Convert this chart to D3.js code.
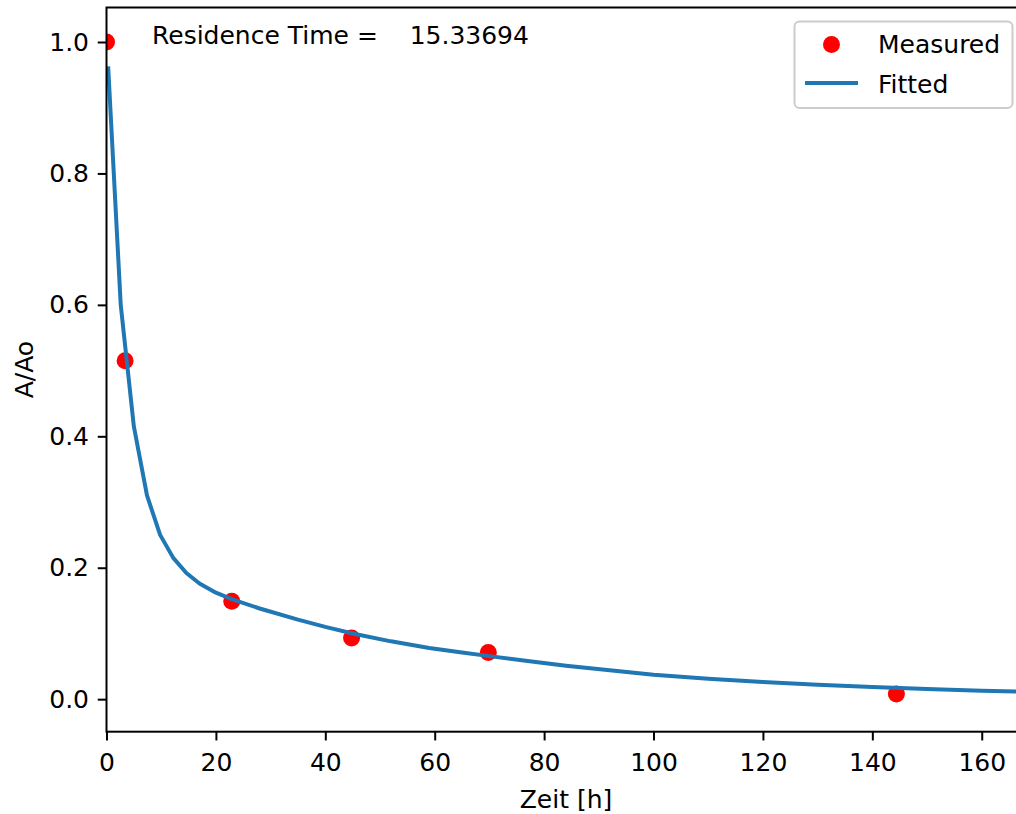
<!DOCTYPE html>
<html>
<head>
<meta charset="utf-8">
<script src="https://d3js.org/d3.v7.min.js"></script>
<style>
  body { margin: 0; background: #fff; }
  text { font-family: "DejaVu Sans", sans-serif; fill: #000; }
</style>
</head>
<body>
<script>

// measured points
var measX = [0, 3.4, 22.9, 44.8, 69.8, 144.4]
var measY = [1.0, 0.515, 0.149, 0.093, 0.071, 0.008]

// fitted curve
var fitX = [0.3, 2.6, 5.0, 7.4, 9.8, 12.2, 14.6, 17.0, 20, 23, 28, 35, 40, 45, 52, 59, 65, 70, 77, 84, 92, 100, 110, 120, 130, 140, 150, 160, 170]
var fitY = [0.963, 0.600, 0.415, 0.310, 0.250, 0.215, 0.192, 0.176, 0.162, 0.152, 0.138, 0.121, 0.110, 0.100, 0.088, 0.078, 0.071, 0.0655, 0.058, 0.051, 0.044, 0.037, 0.031, 0.026, 0.022, 0.0185, 0.0155, 0.013, 0.011]

var xTicks = [0, 20, 40, 60, 80, 100, 120, 140, 160]
var yTicks = [0.0, 0.2, 0.4, 0.6, 0.8, 1.0]

var width = 1016,
    height = 814,
    pLeft = 106.5,
    pRight = 1025.5,
    pTop = 7.5,
    pBottom = 731.7

var svg = d3.select("body")
    .append("svg")
    .attr("width", width)
    .attr("height", height)

var x = d3.scaleLinear()
    .domain([0, 168])
    .range([pLeft, pRight])

var y = d3.scaleLinear()
    .domain([-0.0495, 1.0525])
    .range([pBottom, pTop])

svg.append("clipPath")
    .attr("id", "plotclip")
  .append("rect")
    .attr("x", pLeft)
    .attr("y", pTop)
    .attr("width", pRight - pLeft)
    .attr("height", pBottom - pTop)

var plot = svg.append("g")
    .attr("clip-path", "url(#plotclip)")

// measured dots first, fitted line goes on top
plot.selectAll("circle")
    .data(measX.map(function(d, i) { return [d, measY[i]]; }))
    .enter().append("circle")
      .attr("cx", function(d) { return x(d[0]); })
      .attr("cy", function(d) { return y(d[1]); })
      .attr("r", 8.5)
      .attr("fill", "#ff0000")

var line = d3.line()
    .x(function(d) { return x(d[0]); })
    .y(function(d) { return y(d[1]); })

plot.append("path")
    .datum(fitX.map(function(d, i) { return [d, fitY[i]]; }))
    .attr("d", line)
    .attr("fill", "none")
    .attr("stroke", "#1f77b4")
    .attr("stroke-width", 4)
    .attr("stroke-linejoin", "round")

// axes
svg.append("g")
    .attr("transform", "translate(0," + pBottom + ")")
    .call(d3.axisBottom(x)
        .tickValues(xTicks)
        .tickSize(8.75)
        .tickPadding(13)
        .tickFormat(d3.format("d")))
    .call(function(g) {
      g.select(".domain").remove()
      g.selectAll("line").attr("stroke", "#000").attr("stroke-width", 2)
      g.selectAll("text").attr("font-size", 25).attr("font-family", "DejaVu Sans")
    })

svg.append("g")
    .attr("transform", "translate(" + pLeft + ",0)")
    .call(d3.axisLeft(y)
        .tickValues(yTicks)
        .tickSize(8.75)
        .tickPadding(8.75)
        .tickFormat(d3.format(".1f")))
    .call(function(g) {
      g.select(".domain").remove()
      g.selectAll("line").attr("stroke", "#000").attr("stroke-width", 2)
      g.selectAll("text").attr("font-size", 25).attr("font-family", "DejaVu Sans")
    })

// spines (right one sits past the page edge)
svg.append("rect")
    .attr("x", pLeft)
    .attr("y", pTop)
    .attr("width", pRight - pLeft)
    .attr("height", pBottom - pTop)
    .attr("fill", "none")
    .attr("stroke", "#000")
    .attr("stroke-width", 2)

svg.append("text")
    .attr("x", (pLeft + pRight) / 2)
    .attr("y", 808)
    .attr("text-anchor", "middle")
    .attr("font-size", 25)
    .text("Zeit [h]")

svg.append("text")
    .attr("transform", "translate(33," + (pTop + pBottom) / 2 + ") rotate(-90)")
    .attr("text-anchor", "middle")
    .attr("font-size", 25)
    .text("A/Ao")

svg.append("text")
    .attr("x", 152)
    .attr("y", 44)
    .attr("font-size", 25)
    .style("white-space", "pre")
    .text("Residence Time =    15.33694")

// legend
var legend = svg.append("g")

legend.append("rect")
    .attr("x", 794.5)
    .attr("y", 21.5)
    .attr("width", 218)
    .attr("height", 86.5)
    .attr("rx", 5)
    .attr("fill", "#fff")
    .attr("fill-opacity", 0.8)
    .attr("stroke", "#cccccc")
    .attr("stroke-width", 2)

legend.append("circle")
    .attr("cx", 831.5)
    .attr("cy", 44.5)
    .attr("r", 8.5)
    .attr("fill", "#ff0000")

legend.append("line")
    .attr("x1", 805)
    .attr("x2", 858)
    .attr("y1", 83)
    .attr("y2", 83)
    .attr("stroke", "#1f77b4")
    .attr("stroke-width", 4)

legend.append("text")
    .attr("x", 878)
    .attr("y", 53)
    .attr("font-size", 25)
    .text("Measured")

legend.append("text")
    .attr("x", 878)
    .attr("y", 93)
    .attr("font-size", 25)
    .text("Fitted")

</script>
</body>
</html>
